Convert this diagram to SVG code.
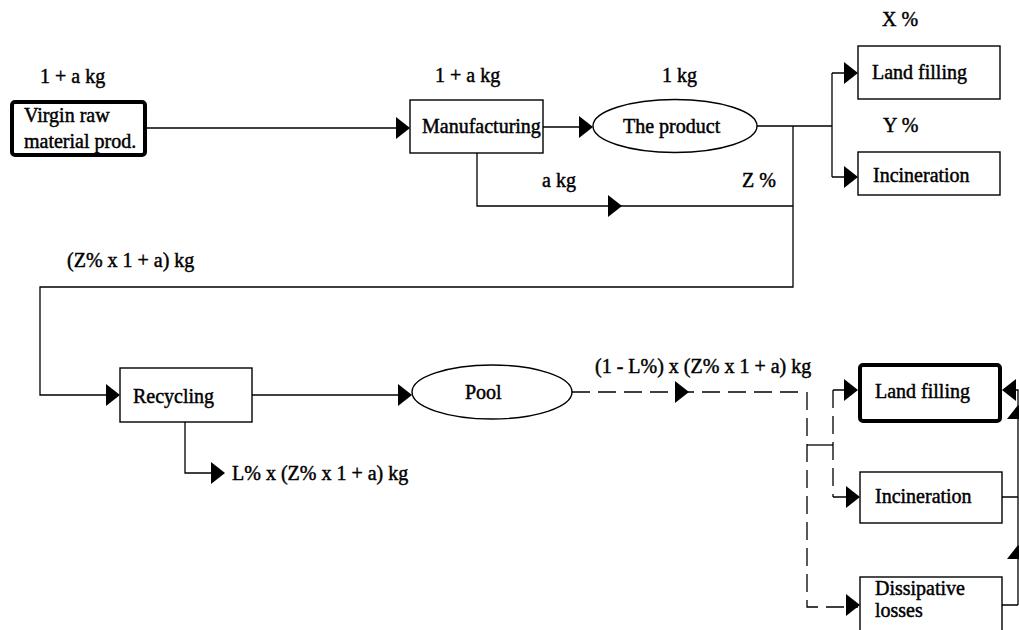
<svg xmlns="http://www.w3.org/2000/svg" width="1019" height="630" viewBox="0 0 1019 630">
<style>
text{font-family:"Liberation Serif","Times New Roman",serif;font-size:20px;font-weight:normal;fill:#000;stroke:#000;stroke-width:0.45}
.box{fill:#fff;stroke:#000;stroke-width:1.4}
.thick{fill:#fff;stroke:#000;stroke-width:4}
.ln{fill:none;stroke:#000;stroke-width:1.3}
.dash{fill:none;stroke:#000;stroke-width:1.3;stroke-dasharray:18 8}
</style>
<defs>
<path id="ah" d="M0,0 L-14,-11 L-14,11 Z" fill="#000"/>
</defs>
<rect width="1019" height="630" fill="#fff"/>

<g id="connectors">
<path class="ln" d="M147,128 H408"/>
<use href="#ah" transform="translate(410,128)"/>
<path class="ln" d="M543,127 H591"/>
<use href="#ah" transform="translate(593,127)"/>
<path class="ln" d="M757,126 H832 M832,73 V177 M832,73 H856 M832,177 H856"/>
<use href="#ah" transform="translate(858,73)"/>
<use href="#ah" transform="translate(858,177)"/>
<path class="ln" d="M477,153 V206 H793"/>
<use href="#ah" transform="translate(622,206)"/>
<path class="ln" d="M793,126 V287 H40 V395 H118"/>
<use href="#ah" transform="translate(120,395)"/>
<path class="ln" d="M252,395 H410"/>
<use href="#ah" transform="translate(412,395)"/>
<path class="ln" d="M185,422 V473 H223"/>
<use href="#ah" transform="translate(225,473)"/>
<path class="dash" d="M572,392 H800"/>
<use href="#ah" transform="translate(689,392)"/>
<path class="dash" d="M807,392 V607 H858"/>
<path class="ln" d="M807,445 H833"/>
<path class="dash" d="M833,390 V497"/>
<path class="ln" d="M833,390 H856 M833,497 H858"/>
<use href="#ah" transform="translate(858,390)"/>
<use href="#ah" transform="translate(860,497)"/>
<use href="#ah" transform="translate(860,605)"/>
<path class="ln" d="M1002,497 H1018 M1002,605 H1018 M1018,605 V390 H1004"/>
<use href="#ah" transform="translate(1002,390) rotate(180)"/>
<use href="#ah" transform="translate(1018,405) rotate(-90)"/>
<use href="#ah" transform="translate(1018,545) rotate(-90)"/>
</g>

<g id="labels">
<text x="40" y="83">1 + a kg</text>
<text x="435" y="82">1 + a kg</text>
<text x="662" y="82">1 kg</text>
<text x="882" y="26">X %</text>
<text x="883" y="132">Y %</text>
<text x="542" y="187">a kg</text>
<text x="742" y="187">Z %</text>
<text x="67" y="267">(Z% x 1 + a) kg</text>
<text x="595" y="373">(1 - L%) x (Z% x 1 + a) kg</text>
<text x="232" y="480">L% x (Z% x 1 + a) kg</text>
</g>

<g id="virgin">
<rect class="thick" x="12" y="102" width="133" height="53" rx="3"/>
<text x="24" y="122">Virgin raw</text>
<text x="24" y="148">material prod.</text>
</g>
<g id="manufacturing">
<rect class="box" x="410" y="100" width="133" height="53"/>
<text x="422" y="133">Manufacturing</text>
</g>
<g id="product">
<ellipse class="box" cx="675" cy="126" rx="82" ry="26.5"/>
<text x="623" y="133">The product</text>
</g>
<g id="landfill1">
<rect class="box" x="858" y="46" width="142" height="53"/>
<text x="872" y="79">Land filling</text>
</g>
<g id="incin1">
<rect class="box" x="858" y="152" width="142" height="43"/>
<text x="873" y="182">Incineration</text>
</g>
<g id="recycling">
<rect class="box" x="120" y="368" width="132" height="54"/>
<text x="133" y="403">Recycling</text>
</g>
<g id="pool">
<ellipse class="box" cx="492" cy="392" rx="80" ry="27"/>
<text x="465" y="399">Pool</text>
</g>
<g id="landfill2">
<rect class="thick" x="860" y="365" width="140" height="56" rx="3"/>
<text x="875" y="398">Land filling</text>
</g>
<g id="incin2">
<rect class="box" x="860" y="472" width="142" height="51"/>
<text x="875" y="503">Incineration</text>
</g>
<g id="dissipative">
<rect class="box" x="860" y="577" width="142" height="70"/>
<text x="875" y="595">Dissipative</text>
<text x="875" y="617">losses</text>
</g>
</svg>
